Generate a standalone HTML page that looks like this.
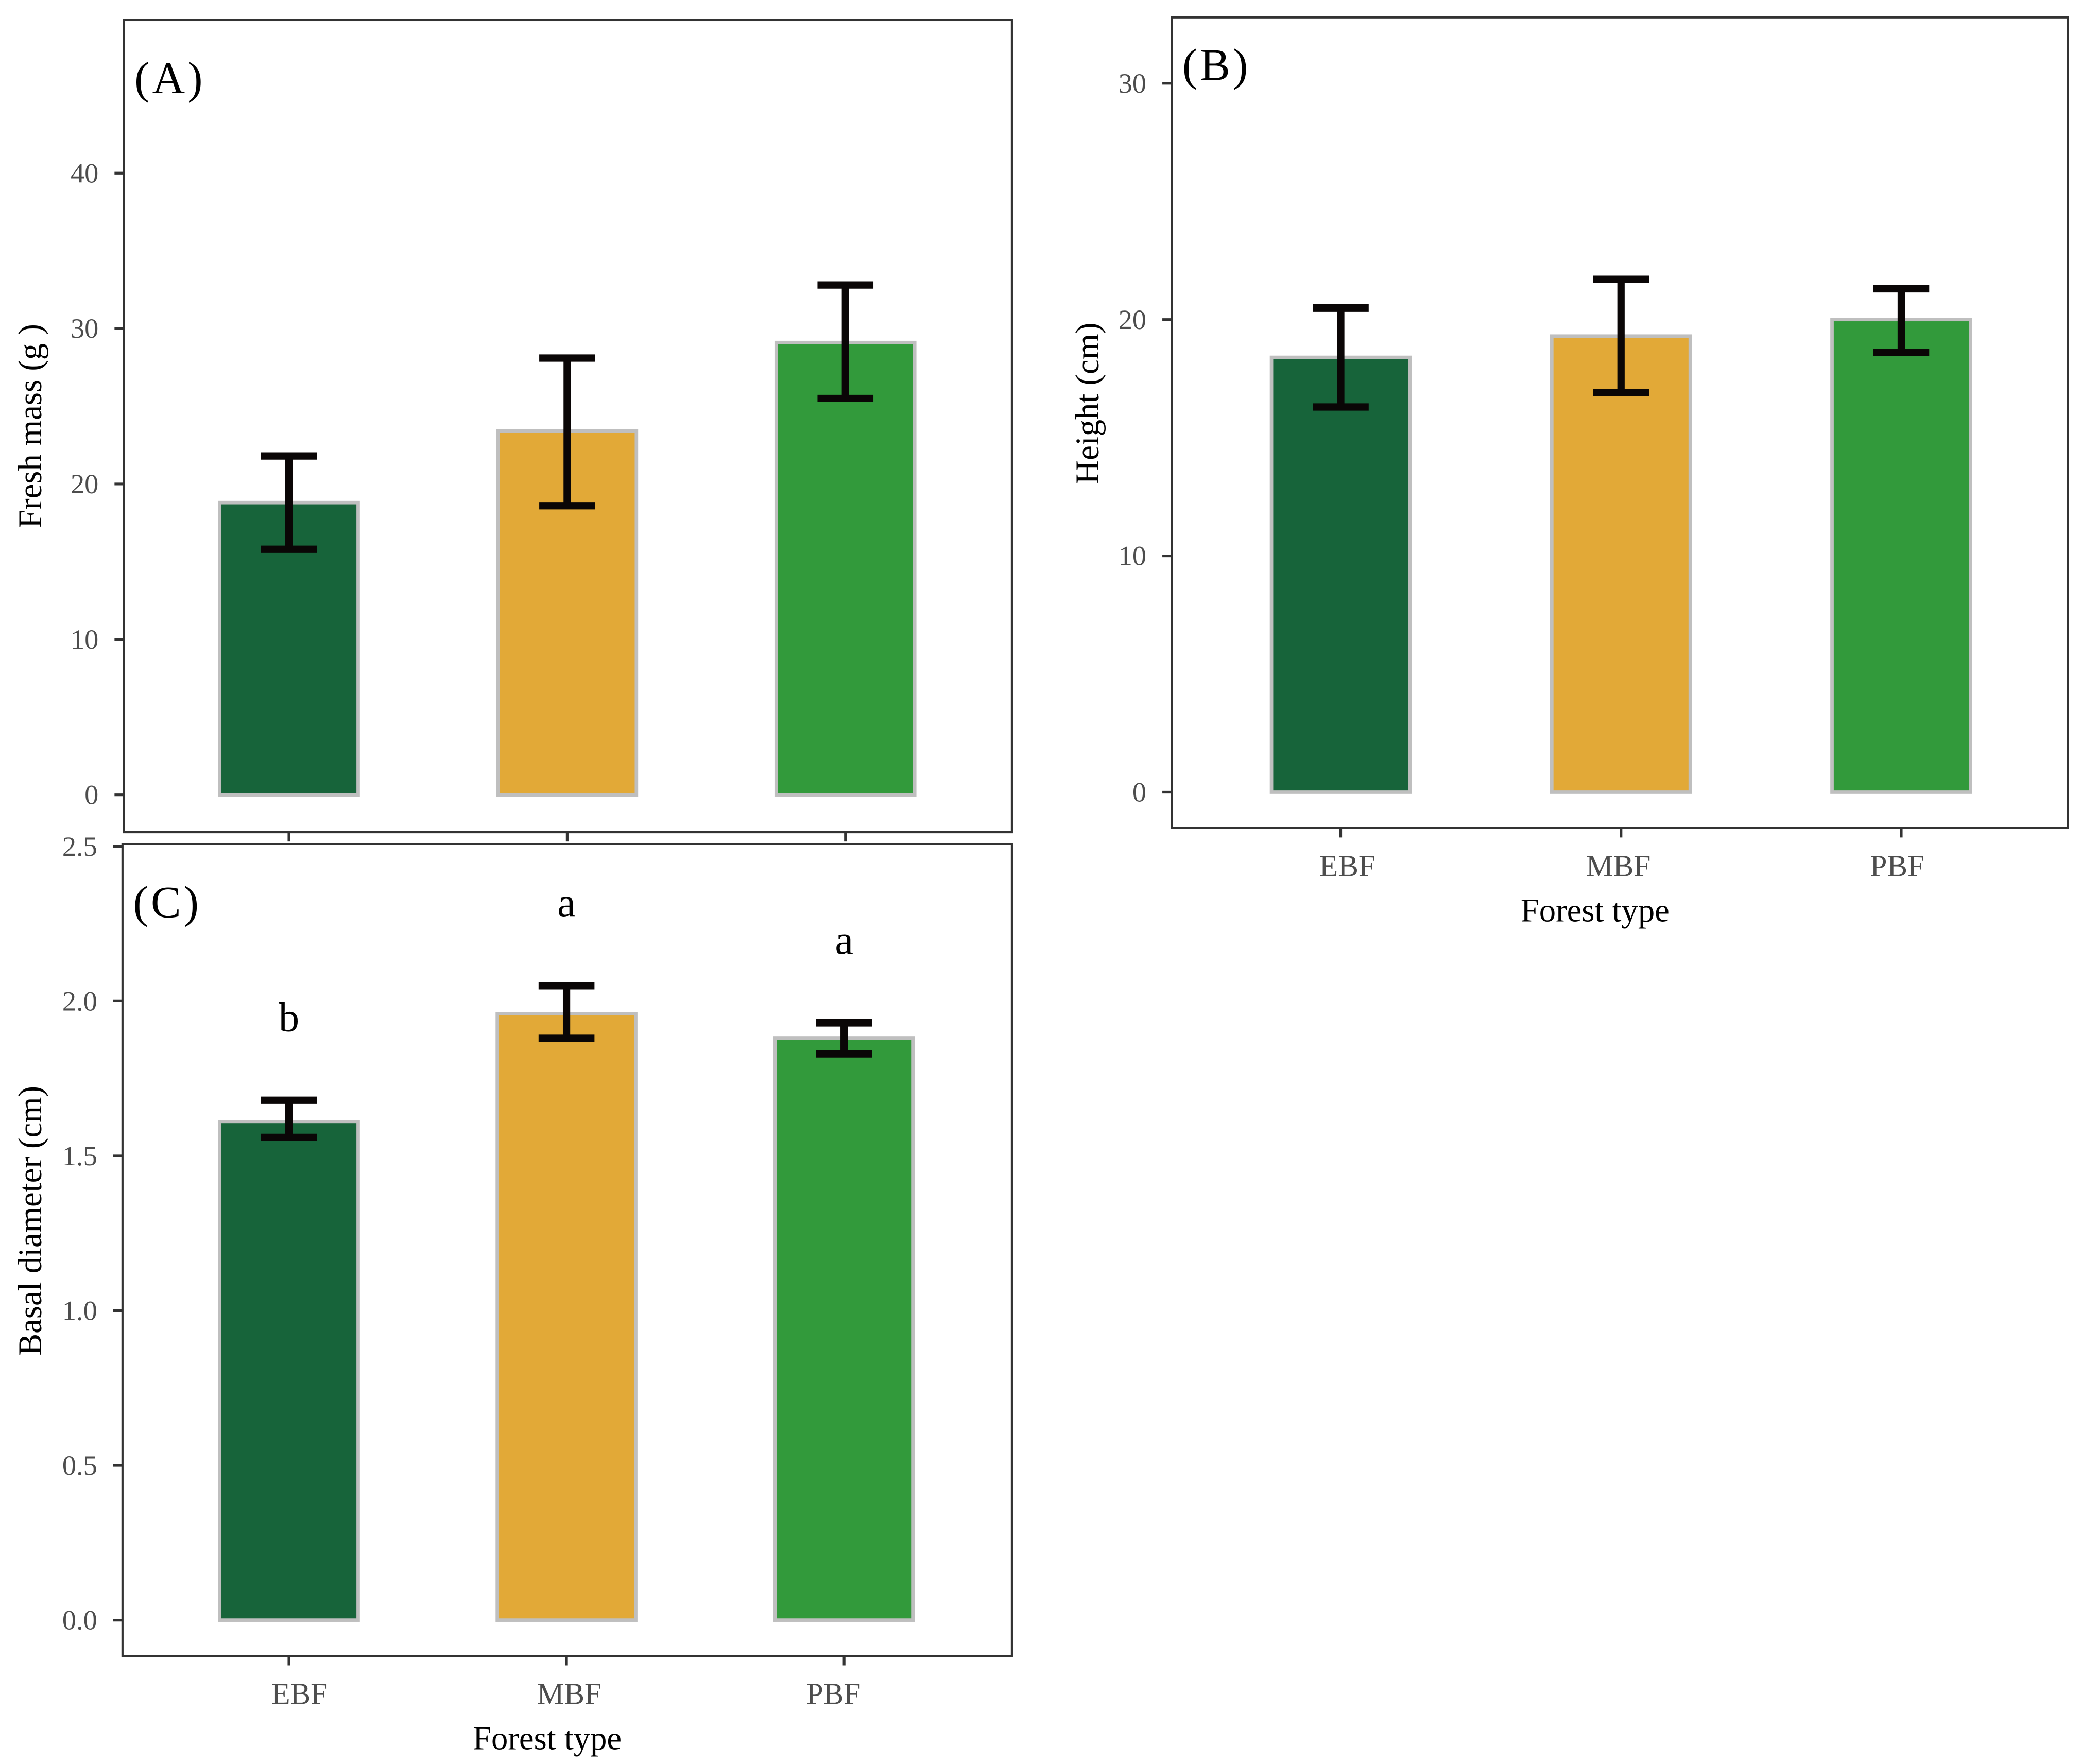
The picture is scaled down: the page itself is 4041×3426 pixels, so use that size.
<!DOCTYPE html>
<html><head><meta charset="utf-8">
<style>
html,body{margin:0;padding:0;background:#fff;}
svg{display:block;}
text{font-family:"Liberation Serif",serif;}
</style></head>
<body>
<svg id="fig" width="4041" height="3426" viewBox="0 0 1563 1325" xmlns="http://www.w3.org/2000/svg"></svg>
<script>
const categories = ["EBF","MBF","PBF"];
const colors = ["#17643a","#e2a937","#329a3b"];
const massMean = [18.8, 23.4, 29.1];
const massLow = [15.8, 18.6, 25.5];
const massHigh = [21.8, 28.1, 32.8];
const massTicks = [0,10,20,30,40];
const heightMean = [18.4, 19.3, 20.0];
const heightLow = [16.3, 16.9, 18.6];
const heightHigh = [20.5, 21.7, 21.3];
const heightTicks = [0,10,20,30];
const diamMean = [1.61, 1.96, 1.88];
const diamLow = [1.56, 1.88, 1.83];
const diamHigh = [1.68, 2.05, 1.93];
const diamTicks = [0,0.5,1.0,1.5,2.0,2.5];
const diamTickLabels = ["0.0","0.5","1.0","1.5","2.0","2.5"];
const diamLetters = ["b","a","a"];

const NS = "http://www.w3.org/2000/svg";
const svg = document.getElementById('fig');
function mk(tag, attrs, parent, txt){
  const e = document.createElementNS(NS, tag);
  for (const k in attrs) e.setAttribute(k, attrs[k]);
  if (txt !== undefined) e.textContent = txt;
  (parent||svg).appendChild(e);
  return e;
}

function panel(cfg){
  const g = mk('g', {});
  
  
  const y = v => cfg.y0 + (cfg.yTop - cfg.y0) * (v - cfg.vmin) / (cfg.vmax - cfg.vmin);
  const x = i => cfg.xc[0] + i * (cfg.xc[2] - cfg.xc[0]) / 2;
  cfg.mean.forEach((m, i) => {
    const r = mk('rect', {x: x(i) - 52, y: y(m), width: 104, height: y(0) - y(m), fill: colors[i], stroke: '#bfbfbf', 'stroke-width': 2.6}, g);
    
    
  });
  cfg.mean.forEach((m, i) => {
    const eg = mk('g', {stroke: '#0a0606', 'stroke-width': 5.5, fill: 'none'}, g);
    
    
    mk('line', {x1: x(i), x2: x(i), y1: y(cfg.low[i]), y2: y(cfg.high[i])}, eg);
    mk('line', {x1: x(i) - 21, x2: x(i) + 21, y1: y(cfg.low[i]), y2: y(cfg.low[i])}, eg);
    mk('line', {x1: x(i) - 21, x2: x(i) + 21, y1: y(cfg.high[i]), y2: y(cfg.high[i])}, eg);
  });
  const f = mk('rect', {x: cfg.box[0], y: cfg.box[1], width: cfg.box[2] - cfg.box[0], height: cfg.box[3] - cfg.box[1], fill: 'none', stroke: '#333', 'stroke-width': 1.6}, g);
  
  
  cfg.ticks.forEach((t, k) => {
    mk('line', {x1: cfg.box[0] - 7, x2: cfg.box[0], y1: y(t), y2: y(t), stroke: '#333', 'stroke-width': 2}, g);
    const tl = mk('text', {x: cfg.box[0] - 19, y: y(t) + 7, 'text-anchor': 'end', 'font-size': 21, fill: '#4d4d4d'}, g, cfg.tickLabels ? cfg.tickLabels[k] : String(t));
    
    
  });
  categories.forEach((c, i) => {
    mk('line', {x1: x(i), x2: x(i), y1: cfg.box[3], y2: cfg.box[3] + 7, stroke: '#333', 'stroke-width': 2}, g);
    if (cfg.xlabels) {
      const xl = mk('text', {x: x(i) + cfg.xlOff[i], y: cfg.box[3] + 36, 'text-anchor': 'middle', 'font-size': 23, fill: '#4d4d4d'}, g, c);
      
      
    }
  });
  if (cfg.xlabels) {
    const xt = mk('text', {x: cfg.xTitleX, y: cfg.box[3] + 70, 'text-anchor': 'middle', 'font-size': 25, fill: '#000'}, g, 'Forest type');
    
    
  }
  const yt = mk('text', {x: 0, y: 0, 'text-anchor': 'middle', 'font-size': 25, fill: '#000', transform: 'translate(' + cfg.yTitle[0] + ',' + cfg.yTitle[1] + ') rotate(-90)'}, g, cfg.ytitle);
  
  
  const pl = mk('text', {x: cfg.box[0] + 8, y: cfg.box[1] + 55 - (cfg.labOff||0), 'font-size': 34, fill: '#000', 'letter-spacing': 2}, g, cfg.label);
  
  
  if (cfg.letters) {
    cfg.letters.forEach((l, i) => {
      const lt = mk('text', {x: x(i), y: y(cfg.high[i]) - 52, 'text-anchor': 'middle', 'font-size': 31, fill: '#000'}, g, l);
      
      
    });
  }
}

panel({name:'panel-a-fresh-mass', box:[93,15,760,625], y0:597, yTop:130, vmin:0, vmax:40,
  xc:[217,426,635], mean:massMean, low:massLow, high:massHigh, ticks:massTicks,
  ytitle:'Fresh mass (g )', yTitle:[31,320], label:'(A)', labOff:0, xlabels:false});
panel({name:'panel-b-height', box:[880,13,1553,622], y0:595, yTop:240, vmin:0, vmax:20,
  xc:[1007,1217,1428], mean:heightMean, low:heightLow, high:heightHigh, ticks:heightTicks,
  ytitle:'Height (cm)', yTitle:[825,303], label:'(B)', labOff:8, xlabels:true, xlOff:[5,-2,-3], xTitleX:1198});
panel({name:'panel-c-basal-diameter', box:[92,634,760,1244], y0:1217, yTop:752, vmin:0, vmax:2,
  xc:[217,426,634], mean:diamMean, low:diamLow, high:diamHigh, ticks:diamTicks, tickLabels:diamTickLabels,
  ytitle:'Basal diameter (cm)', yTitle:[31,917], label:'(C)', labOff:0, xlabels:true, xlOff:[8,2,-8], xTitleX:411,
  letters:diamLetters});
</script>
</body></html>
